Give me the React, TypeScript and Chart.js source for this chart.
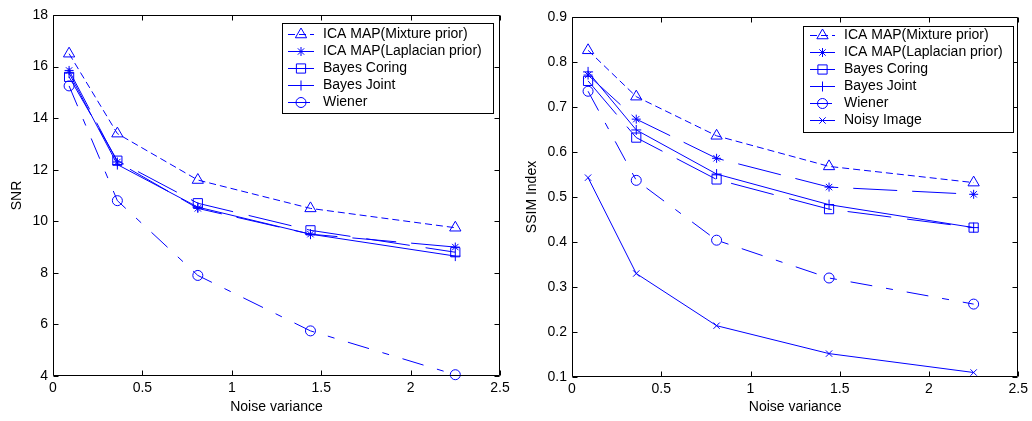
import React, { useEffect, useRef } from 'react';
import { Chart, registerables } from 'chart.js';
import { drawPoint } from 'chart.js/helpers';

Chart.register(...registerables);

const FONT = "'Liberation Sans', Arial, Helvetica, sans-serif";
const BLUE = '#0000ff';

// ---------- data ----------
const NOISE_VARIANCE = [0.09, 0.36, 0.81, 1.44, 2.25];
const X_TICKS = [0, 0.5, 1, 1.5, 2, 2.5];
const SNR_TICKS = [4, 6, 8, 10, 12, 14, 16, 18];
const SSIM_TICKS = [0.1, 0.2, 0.3, 0.4, 0.5, 0.6, 0.7, 0.8, 0.9];

const NAME_MIXTURE = 'ICA MAP(Mixture prior)';
const NAME_LAPLACIAN = 'ICA MAP(Laplacian prior)';
const NAME_CORING = 'Bayes Coring';
const NAME_JOINT = 'Bayes Joint';
const NAME_WIENER = 'Wiener';
const NAME_NOISY = 'Noisy Image';

const SNR_MIXTURE = [16.5, 13.4, 11.6, 10.5, 9.75];
const SNR_LAPLACIAN = [15.85, 12.3, 10.5, 9.5, 9.0];
const SNR_CORING = [15.6, 12.35, 10.7, 9.65, 8.8];
const SNR_JOINT = [15.75, 12.2, 10.55, 9.5, 8.65];
const SNR_WIENER = [15.25, 10.8, 7.9, 5.75, 4.05];

const SSIM_MIXTURE = [0.826, 0.723, 0.636, 0.568, 0.532];
const SSIM_LAPLACIAN = [0.771, 0.673, 0.586, 0.522, 0.506];
const SSIM_CORING = [0.758, 0.632, 0.539, 0.473, 0.432];
const SSIM_JOINT = [0.778, 0.649, 0.551, 0.483, 0.432];
const SSIM_WIENER = [0.735, 0.537, 0.404, 0.32, 0.262];
const SSIM_NOISY = [0.543, 0.33, 0.214, 0.152, 0.11];

// ---------- styles ----------
type Style = { point: string; radius: number; dash: number[] };
const STYLE_MIXTURE: Style = { point: 'triangle', radius: 6.5, dash: [7, 4] };
const STYLE_LAPLACIAN: Style = { point: 'star', radius: 4.5, dash: [44, 15] };
const STYLE_CORING: Style = { point: 'rect', radius: 6.5, dash: [44, 16] };
const STYLE_JOINT: Style = { point: 'cross', radius: 5, dash: [] };
const STYLE_WIENER: Style = { point: 'circle', radius: 5, dash: [22, 14, 7, 14] };
const STYLE_NOISY: Style = { point: 'crossRot', radius: 4.5, dash: [] };

type Series = { name: string; values: number[]; style: Style };

const boxPlugin = {
  id: 'matlabBox',
  afterDatasetsDraw(chart: any) {
    const { ctx, chartArea: a, scales } = chart;
    const tl = 5;
    ctx.save();
    ctx.strokeStyle = '#000';
    ctx.lineWidth = 1;
    ctx.setLineDash([]);
    const L = Math.round(a.left) + 0.5;
    const R = Math.round(a.right) - 0.5;
    const T = Math.round(a.top) + 0.5;
    const B = Math.round(a.bottom) - 0.5;
    ctx.beginPath();
    ctx.rect(L, T, R - L, B - T);
    scales.x.ticks.forEach((t: any) => {
      const px = Math.round(scales.x.getPixelForValue(t.value)) + 0.5;
      ctx.moveTo(px, B);
      ctx.lineTo(px, B - tl);
      ctx.moveTo(px, T);
      ctx.lineTo(px, T + tl);
    });
    scales.y.ticks.forEach((t: any) => {
      const py = Math.round(scales.y.getPixelForValue(t.value)) + 0.5;
      ctx.moveTo(L, py);
      ctx.lineTo(L + tl, py);
      ctx.moveTo(R, py);
      ctx.lineTo(R - tl, py);
    });
    ctx.stroke();
    ctx.restore();
  },
};

const legendPlugin = {
  id: 'matlabLegend',
  afterDraw(chart: any, _args: any, o: any) {
    const { ctx } = chart;
    ctx.save();
    ctx.fillStyle = '#fff';
    ctx.fillRect(o.left, o.top, o.width, o.height);
    ctx.strokeStyle = '#000';
    ctx.lineWidth = 1;
    ctx.strokeRect(o.left + 0.5, o.top + 0.5, o.width, o.height);
    chart.data.datasets.forEach((ds: any, i: number) => {
      const y = o.firstRow + i * o.rowGap;
      ctx.strokeStyle = BLUE;
      ctx.lineWidth = 1;
      ctx.setLineDash(ds.borderDash || []);
      ctx.beginPath();
      ctx.moveTo(o.lineStart, Math.round(y) + 0.5);
      ctx.lineTo(o.lineEnd, Math.round(y) + 0.5);
      ctx.stroke();
      ctx.setLineDash([]);
      ctx.fillStyle = 'rgba(0,0,0,0)';
      drawPoint(
        ctx,
        { pointStyle: ds.pointStyle, radius: ds.pointRadius, rotation: 0, borderWidth: 1 } as any,
        (o.lineStart + o.lineEnd) / 2,
        Math.round(y) + 0.5
      );
      ctx.fillStyle = '#000';
      ctx.font = `14px ${FONT}`;
      ctx.textBaseline = 'middle';
      ctx.textAlign = 'left';
      ctx.fillText(ds.label, o.textX, y + 0.5);
    });
    ctx.restore();
  },
};

type Panel = {
  series: Series[];
  yTicks: number[];
  yTitle: string;
  padding: { top: number; right: number; bottom: number; left: number };
  yWidth: number;
  xHeight: number;
  yTitlePad: number;
  legend: any;
};

function buildConfig(p: Panel): any {
  return {
    type: 'line',
    data: {
      datasets: p.series.map((s) => ({
        label: s.name,
        data: NOISE_VARIANCE.map((x, j) => ({ x, y: s.values[j] })),
        borderColor: BLUE,
        borderWidth: 1,
        borderDash: s.style.dash,
        pointStyle: s.style.point,
        pointRadius: s.style.radius,
        pointBorderColor: BLUE,
        pointBackgroundColor: 'rgba(0,0,0,0)',
        pointBorderWidth: 1,
        fill: false,
        tension: 0,
        clip: false,
      })),
    },
    options: {
      responsive: false,
      animation: false,
      devicePixelRatio: 1,
      events: [],
      layout: { padding: p.padding },
      plugins: {
        legend: { display: false },
        tooltip: { enabled: false },
        matlabLegend: p.legend,
      },
      scales: {
        x: {
          type: 'linear',
          min: X_TICKS[0],
          max: X_TICKS[X_TICKS.length - 1],
          afterBuildTicks: (s: any) => {
            s.ticks = X_TICKS.map((v) => ({ value: v }));
          },
          afterFit: (s: any) => {
            s.height = p.xHeight;
          },
          grid: { display: false, drawTicks: false },
          border: { display: false },
          ticks: {
            padding: 4,
            color: '#000',
            font: { size: 14, family: FONT },
            maxRotation: 0,
            autoSkip: false,
            callback: (v: any) => String(v),
          },
          title: {
            display: true,
            text: 'Noise variance',
            color: '#000',
            font: { size: 14, family: FONT },
            padding: { top: 0, bottom: 5 },
          },
        },
        y: {
          type: 'linear',
          min: p.yTicks[0],
          max: p.yTicks[p.yTicks.length - 1],
          afterBuildTicks: (s: any) => {
            s.ticks = p.yTicks.map((v) => ({ value: v }));
          },
          afterFit: (s: any) => {
            s.width = p.yWidth;
          },
          grid: { display: false, drawTicks: false },
          border: { display: false },
          ticks: {
            padding: 5,
            color: '#000',
            font: { size: 14, family: FONT },
            autoSkip: false,
            callback: (v: any) => String(v),
          },
          title: {
            display: true,
            text: p.yTitle,
            color: '#000',
            font: { size: 14, family: FONT },
            padding: { top: p.yTitlePad, bottom: 0 },
          },
        },
      },
    },
    plugins: [boxPlugin, legendPlugin],
  };
}

const SNR_PANEL: Panel = {
  series: [
    { name: NAME_MIXTURE, values: SNR_MIXTURE, style: STYLE_MIXTURE },
    { name: NAME_LAPLACIAN, values: SNR_LAPLACIAN, style: STYLE_LAPLACIAN },
    { name: NAME_CORING, values: SNR_CORING, style: STYLE_CORING },
    { name: NAME_JOINT, values: SNR_JOINT, style: STYLE_JOINT },
    { name: NAME_WIENER, values: SNR_WIENER, style: STYLE_WIENER },
  ],
  yTicks: SNR_TICKS,
  yTitle: 'SNR',
  padding: { top: 15, right: 16, bottom: 0, left: 0 },
  yWidth: 53,
  xHeight: 45,
  yTitlePad: 9,
  legend: {
    left: 282, top: 23, width: 211, height: 90,
    firstRow: 33.5, rowGap: 17, lineStart: 288, lineEnd: 314, textX: 323,
  },
};

const SSIM_PANEL: Panel = {
  series: [
    { name: NAME_MIXTURE, values: SSIM_MIXTURE, style: STYLE_MIXTURE },
    { name: NAME_LAPLACIAN, values: SSIM_LAPLACIAN, style: STYLE_LAPLACIAN },
    { name: NAME_CORING, values: SSIM_CORING, style: STYLE_CORING },
    { name: NAME_JOINT, values: SSIM_JOINT, style: STYLE_JOINT },
    { name: NAME_WIENER, values: SSIM_WIENER, style: STYLE_WIENER },
    { name: NAME_NOISY, values: SSIM_NOISY, style: STYLE_NOISY },
  ],
  yTicks: SSIM_TICKS,
  yTitle: 'SSIM Index',
  padding: { top: 17, right: 12, bottom: 0, left: 0 },
  yWidth: 56,
  xHeight: 44,
  yTitlePad: 8,
  legend: {
    left: 287, top: 26, width: 210, height: 106,
    firstRow: 35, rowGap: 17, lineStart: 294, lineEnd: 319, textX: 328,
  },
};

function ChartCanvas({ panel, left }: { panel: Panel; left: number }) {
  const ref = useRef<HTMLCanvasElement | null>(null);
  useEffect(() => {
    if (!ref.current) return;
    const chart = new Chart(ref.current, buildConfig(panel));
    return () => chart.destroy();
  }, [panel]);
  return (
    <canvas
      ref={ref}
      width={516}
      height={421}
      style={{ position: 'absolute', left, top: 0, width: 516, height: 421, display: 'block' }}
    />
  );
}

export default function App() {
  return (
    <div
      style={{
        position: 'absolute',
        left: 0,
        top: 0,
        width: 1032,
        height: 421,
        background: '#fff',
        overflow: 'hidden',
      }}
    >
      <ChartCanvas panel={SNR_PANEL} left={0} />
      <ChartCanvas panel={SSIM_PANEL} left={516} />
    </div>
  );
}
